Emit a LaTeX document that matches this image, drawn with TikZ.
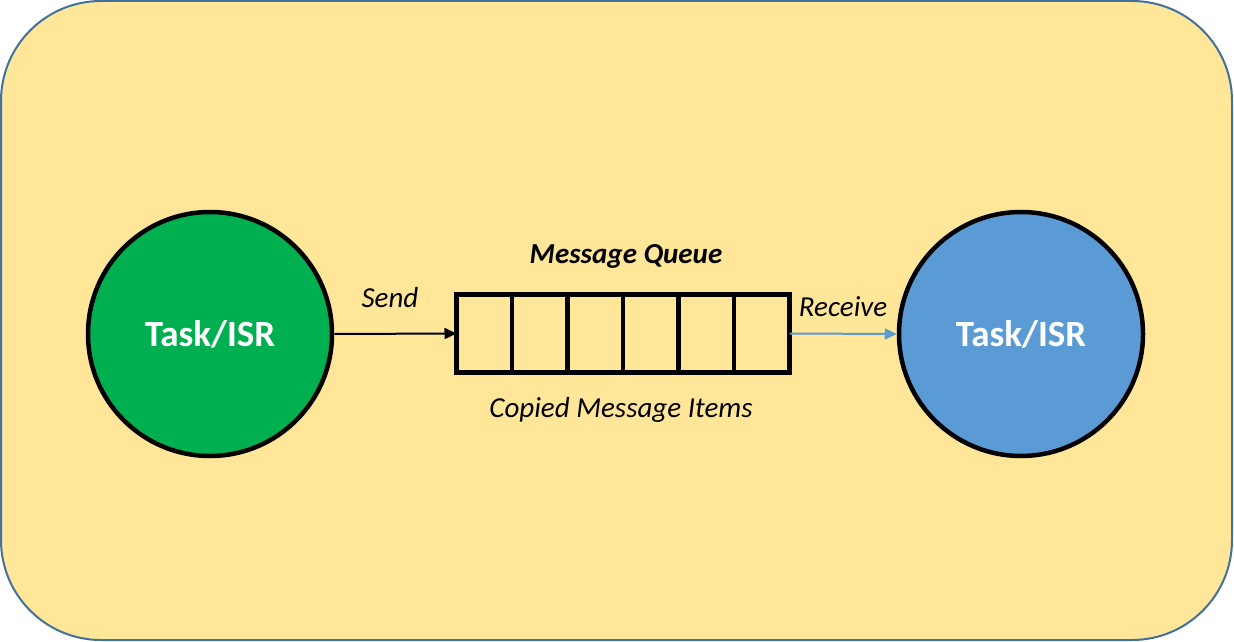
\documentclass[tikz,border=0pt]{standalone}
\usepackage{fontspec}
\setmainfont{Carlito}
\usetikzlibrary{arrows.meta}
\definecolor{bgfill}{HTML}{FFE699}
\definecolor{bgline}{HTML}{41719C}
\definecolor{taskgreen}{HTML}{00B050}
\definecolor{taskblue}{HTML}{5B9BD5}
\tikzset{
  task/.style={circle, draw=black, line width=4.5pt, minimum size=244pt, inner sep=0pt,
    text=white, font=\fontsize{37}{40}\selectfont\bfseries},
  cell/.style={draw=black, line width=4.5pt, minimum width=55.5pt, minimum height=78pt, inner sep=0pt, outer sep=0pt},
  lbl/.style={font=\fontsize{29}{32}\selectfont\itshape, inner sep=0pt},
  conn/.style={line width=2pt, -{Triangle[length=12pt,width=11pt]}}
}
\begin{document}
\begin{tikzpicture}[x=1pt,y=-1pt]
\useasboundingbox (0,0) rectangle (1234,642);
\draw[fill=bgfill, draw=bgline, line width=2pt, rounded corners=100pt] (1,1) rectangle (1232,640);
\node[task, fill=taskgreen] (src) at (210,334) {Task/ISR};
\node[task, fill=taskblue] (dst) at (1021,334) {Task/ISR};
\node[cell] (c1) at (484.25,333.5) {};
\node[cell, anchor=west] (c2) at (c1.east) {};
\node[cell, anchor=west] (c3) at (c2.east) {};
\node[cell, anchor=west] (c4) at (c3.east) {};
\node[cell, anchor=west] (c5) at (c4.east) {};
\node[cell, anchor=west] (c6) at (c5.east) {};
\draw[conn, black] (src.east) -- (c1.west);
\draw[conn, taskblue] (c6.east) -- (dst.west);
\node[lbl] (send) at (390,298) {Send};
\node[lbl] (recv) at (843,307) {Receive};
\node[lbl, font=\fontsize{29}{32}\selectfont\bfseries\itshape] (mq) at (626,256) {Message Queue};
\node[lbl] (cmi) at (621,410) {Copied Message Items};
\end{tikzpicture}
\end{document}
